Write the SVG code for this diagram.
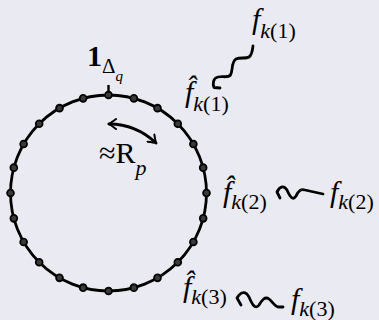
<svg xmlns="http://www.w3.org/2000/svg" width="379" height="320" viewBox="0 0 379 320">
<style>
.ln{fill:none;stroke:#000;stroke-width:2.8;stroke-linejoin:round;stroke-linecap:round}
.dot{fill:#3a3a3a;stroke:#000;stroke-width:1.8}
.m{font-family:"Liberation Serif","DejaVu Serif",serif;font-style:italic;font-size:30px;fill:#000}
.s{font-size:22px}
.up{font-style:normal}
.r{font-family:"Liberation Serif","DejaVu Serif",serif;fill:#000}
</style>
<defs>
<marker id="ah" viewBox="-8 -6 10 12" markerWidth="10" markerHeight="12" refX="0" refY="0" orient="auto-start-reverse" markerUnits="userSpaceOnUse">
<path d="M-7,-5 Q-2,-1.2 0,0 Q-2,1.2 -7,5" fill="none" stroke="#000" stroke-width="2" stroke-linecap="round"/>
</marker>
</defs>
<rect width="379" height="320" fill="#eaeaf2"/>
<g id="ring">
<circle cx="108.5" cy="193" r="98" class="ln"/>
<line x1="108.5" y1="85" x2="108.5" y2="95" stroke="#000" stroke-width="2.4"/>
<circle cx="108.5" cy="95" r="3.4" class="dot"/>
<circle cx="133.86" cy="98.34" r="3.4" class="dot"/>
<circle cx="157.5" cy="108.13" r="3.4" class="dot"/>
<circle cx="177.8" cy="123.7" r="3.4" class="dot"/>
<circle cx="193.37" cy="144" r="3.4" class="dot"/>
<circle cx="203.16" cy="167.64" r="3.4" class="dot"/>
<circle cx="206.5" cy="193" r="3.4" class="dot"/>
<circle cx="203.16" cy="218.36" r="3.4" class="dot"/>
<circle cx="193.37" cy="242" r="3.4" class="dot"/>
<circle cx="177.8" cy="262.3" r="3.4" class="dot"/>
<circle cx="157.5" cy="277.87" r="3.4" class="dot"/>
<circle cx="133.86" cy="287.66" r="3.4" class="dot"/>
<circle cx="108.5" cy="291" r="3.4" class="dot"/>
<circle cx="83.14" cy="287.66" r="3.4" class="dot"/>
<circle cx="59.5" cy="277.87" r="3.4" class="dot"/>
<circle cx="39.2" cy="262.3" r="3.4" class="dot"/>
<circle cx="23.63" cy="242" r="3.4" class="dot"/>
<circle cx="13.84" cy="218.36" r="3.4" class="dot"/>
<circle cx="10.5" cy="193" r="3.4" class="dot"/>
<circle cx="13.84" cy="167.64" r="3.4" class="dot"/>
<circle cx="23.63" cy="144" r="3.4" class="dot"/>
<circle cx="39.2" cy="123.7" r="3.4" class="dot"/>
<circle cx="59.5" cy="108.13" r="3.4" class="dot"/>
<circle cx="83.14" cy="98.34" r="3.4" class="dot"/>
</g>
<g id="label-top">
<text x="87" y="66" class="r" font-size="30" font-weight="bold">1<tspan font-weight="normal" font-size="21" dy="7">Δ</tspan><tspan font-weight="normal" font-style="italic" font-size="15" dy="8">q</tspan></text>
</g>
<g id="label-rp">
<text x="99" y="163" class="r" font-size="30">≈R<tspan font-style="italic" font-size="22" dy="12">p</tspan></text>
</g>
<g id="fhat1">
<text x="185" y="102" class="m">f̂<tspan class="s" dy="9">k<tspan class="up">(1)</tspan></tspan></text>
</g>
<g id="f1">
<text x="252" y="29" class="m">f<tspan class="s" dy="9">k<tspan class="up">(1)</tspan></tspan></text>
</g>
<g id="fhat2">
<text x="223" y="202" class="m">f̂<tspan class="s" dy="7">k<tspan class="up">(2)</tspan></tspan></text>
</g>
<g id="f2">
<text x="330" y="202" class="m">f<tspan class="s" dy="7">k<tspan class="up">(2)</tspan></tspan></text>
</g>
<g id="fhat3">
<text x="183" y="297" class="m">f̂<tspan class="s" dy="7">k<tspan class="up">(3)</tspan></tspan></text>
</g>
<g id="f3">
<text x="291" y="309" class="m">f<tspan class="s" dy="7">k<tspan class="up">(3)</tspan></tspan></text>
</g>
<g id="connectors">
<path class="ln" d="M109,124 A69,69 0 0 1 156,143" marker-start="url(#ah)" marker-end="url(#ah)"/>
<path class="ln" d="M220,88 L214,87.5 C212.5,84 213,78 218,77 C223,76 228,78 230.5,75 C233,71 231,62 236,59 C240,57 246,59 249,57 C252,55 252.5,50 253,46"/>
<path class="ln" d="M280,198 L277,192 C280,186 284,185 287,190 C290,197 293,201 296,196 C299,190 301,189 305,190 L323,194"/>
<path class="ln" d="M241,305 L237,298 C241,291 246,291 249,297 C252,304 255,310 259,305 C262,300 265,296 269,299 C273,302 275,307 279,307 L283,307"/>
</g>
</svg>
